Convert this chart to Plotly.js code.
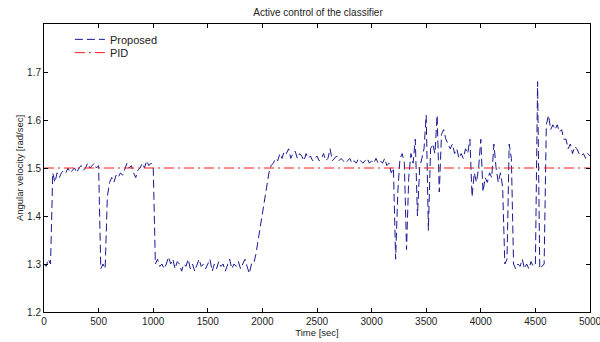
<!DOCTYPE html>
<html>
<head>
<meta charset="utf-8">
<script src="https://cdn.plot.ly/plotly-3.0.1.min.js"></script>
<style>
html,body{margin:0;padding:0;background:#fff;}
#chart{width:600px;height:342px;}
</style>
</head>
<body>
<div id="chart"></div>
<script>
// Time step of samples (sec)
var timeStart = 0;
var timeStep = 20;

// Proposed controller angular velocity [rad/sec], one value every 20 s from 0 to 5000
var proposed = [
  // 0 - 480
  1.30, 1.295, 1.31, 1.30, 1.49, 1.47, 1.49, 1.48, 1.49, 1.495, 1.49, 1.50, 1.49, 1.495, 1.50, 1.49, 1.50, 1.505, 1.495, 1.50, 1.51, 1.50, 1.505, 1.51, 1.50,
  // 500 - 980
  1.505, 1.29, 1.30, 1.29, 1.44, 1.47, 1.48, 1.47, 1.485, 1.48, 1.49, 1.485, 1.50, 1.51, 1.50, 1.505, 1.49, 1.48, 1.495, 1.50, 1.51, 1.50, 1.515, 1.505, 1.51,
  // 1000 - 1480
  1.505, 1.30, 1.31, 1.295, 1.30, 1.29, 1.30, 1.315, 1.30, 1.31, 1.29, 1.305, 1.30, 1.285, 1.30, 1.295, 1.31, 1.29, 1.30, 1.285, 1.30, 1.31, 1.295, 1.30, 1.29,
  // 1500 - 1980
  1.30, 1.31, 1.285, 1.30, 1.29, 1.305, 1.295, 1.30, 1.285, 1.30, 1.31, 1.29, 1.30, 1.295, 1.305, 1.29, 1.30, 1.31, 1.295, 1.28, 1.30, 1.30, 1.32, 1.35, 1.38,
  // 2000 - 2480
  1.41, 1.44, 1.47, 1.49, 1.505, 1.51, 1.52, 1.515, 1.53, 1.52, 1.535, 1.53, 1.54, 1.52, 1.53, 1.535, 1.52, 1.53, 1.525, 1.515, 1.53, 1.52, 1.525, 1.515, 1.52,
  // 2500 - 2980
  1.525, 1.515, 1.52, 1.53, 1.515, 1.52, 1.54, 1.515, 1.52, 1.525, 1.515, 1.52, 1.515, 1.51, 1.515, 1.52, 1.51, 1.515, 1.51, 1.52, 1.515, 1.51, 1.515, 1.52, 1.51,
  // 3000 - 3480
  1.515, 1.51, 1.52, 1.51, 1.515, 1.51, 1.52, 1.505, 1.51, 1.49, 1.50, 1.31, 1.45, 1.52, 1.53, 1.51, 1.33, 1.48, 1.53, 1.51, 1.56, 1.40, 1.50, 1.52, 1.54,
  // 3500 - 3980
  1.61, 1.37, 1.54, 1.55, 1.53, 1.61, 1.45, 1.57, 1.58, 1.56, 1.55, 1.54, 1.55, 1.53, 1.54, 1.52, 1.53, 1.52, 1.54, 1.53, 1.56, 1.44, 1.49, 1.47, 1.50,
  // 4000 - 4480
  1.56, 1.45, 1.48, 1.47, 1.49, 1.48, 1.55, 1.50, 1.47, 1.49, 1.46, 1.30, 1.31, 1.55, 1.52, 1.30, 1.29, 1.30, 1.295, 1.31, 1.29, 1.30, 1.29, 1.305, 1.295,
  // 4500 - 5000
  1.30, 1.68, 1.29, 1.295, 1.30, 1.59, 1.61, 1.58, 1.59, 1.58, 1.59, 1.575, 1.58, 1.56, 1.56, 1.54, 1.55, 1.53, 1.545, 1.54, 1.53, 1.525, 1.53, 1.52, 1.53, 1.525
];

// PID reference level
var pidTimes = [0, 5000];
var pidValues = [1.5, 1.5];

// Axis ticks
var xTicks = [0, 500, 1000, 1500, 2000, 2500, 3000, 3500, 4000, 4500, 5000];
var yTicks = [1.2, 1.3, 1.4, 1.5, 1.6, 1.7];

var times = proposed.map(function (v, i) { return timeStart + i * timeStep; });

var traces = [
  {
    x: times, y: proposed, type: 'scatter', mode: 'lines', name: 'Proposed', legend: 'legend',
    line: {color: '#1a1a90', width: 1, dash: '8px,4px'}
  },
  {
    x: pidTimes, y: pidValues, type: 'scatter', mode: 'lines', name: 'PID', legend: 'legend2',
    line: {color: '#ff1a1a', width: 1, dash: '10px,4px,2px,4px'}
  }
];

var fontFam = 'Liberation Sans, Arial, Helvetica, sans-serif';
var legendBase = {xanchor: 'left', yanchor: 'top', bgcolor: 'rgba(255,255,255,0)', borderwidth: 0, font: {size: 11, color: '#222'}};

var layout = {
  width: 600, height: 342,
  margin: {l: 44, r: 10, t: 24, b: 30},
  paper_bgcolor: '#fff', plot_bgcolor: '#fff',
  font: {family: fontFam, size: 10, color: '#222'},
  title: {text: 'Active control of the classifier', font: {size: 10, color: '#222'}, x: 0.53, xanchor: 'center', y: 0.962, yanchor: 'middle'},
  showlegend: true,
  legend: Object.assign({x: 0.0475, y: 0.997}, legendBase),
  legend2: Object.assign({x: 0.0475, y: 0.951}, legendBase),
  xaxis: {
    range: [0, 5000.01], tickvals: xTicks, ticktext: xTicks.map(String),
    ticks: 'inside', ticklen: 4, tickcolor: '#000', tickwidth: 1,
    showline: true, linecolor: '#000', linewidth: 1, mirror: 'ticks',
    showgrid: false, zeroline: false, ticklabeloverflow: 'allow',
    tickfont: {size: 10, color: '#222'},
    title: {text: 'Time [sec]', font: {size: 9.5, color: '#222'}, standoff: 3}
  },
  yaxis: {
    range: [1.2, 1.8], tickvals: yTicks, ticktext: yTicks.map(function (v) { return v.toFixed(1); }),
    ticks: 'inside', ticklen: 4, tickcolor: '#000', tickwidth: 1,
    showline: true, linecolor: '#000', linewidth: 1, mirror: 'ticks',
    showgrid: false, zeroline: false,
    tickfont: {size: 10, color: '#222'},
    title: {text: 'Angular velocity [rad/sec]', font: {size: 9.5, color: '#222'}, standoff: 1}
  }
};

Plotly.newPlot('chart', traces, layout, {displayModeBar: false, staticPlot: true});
</script>
</body>
</html>
